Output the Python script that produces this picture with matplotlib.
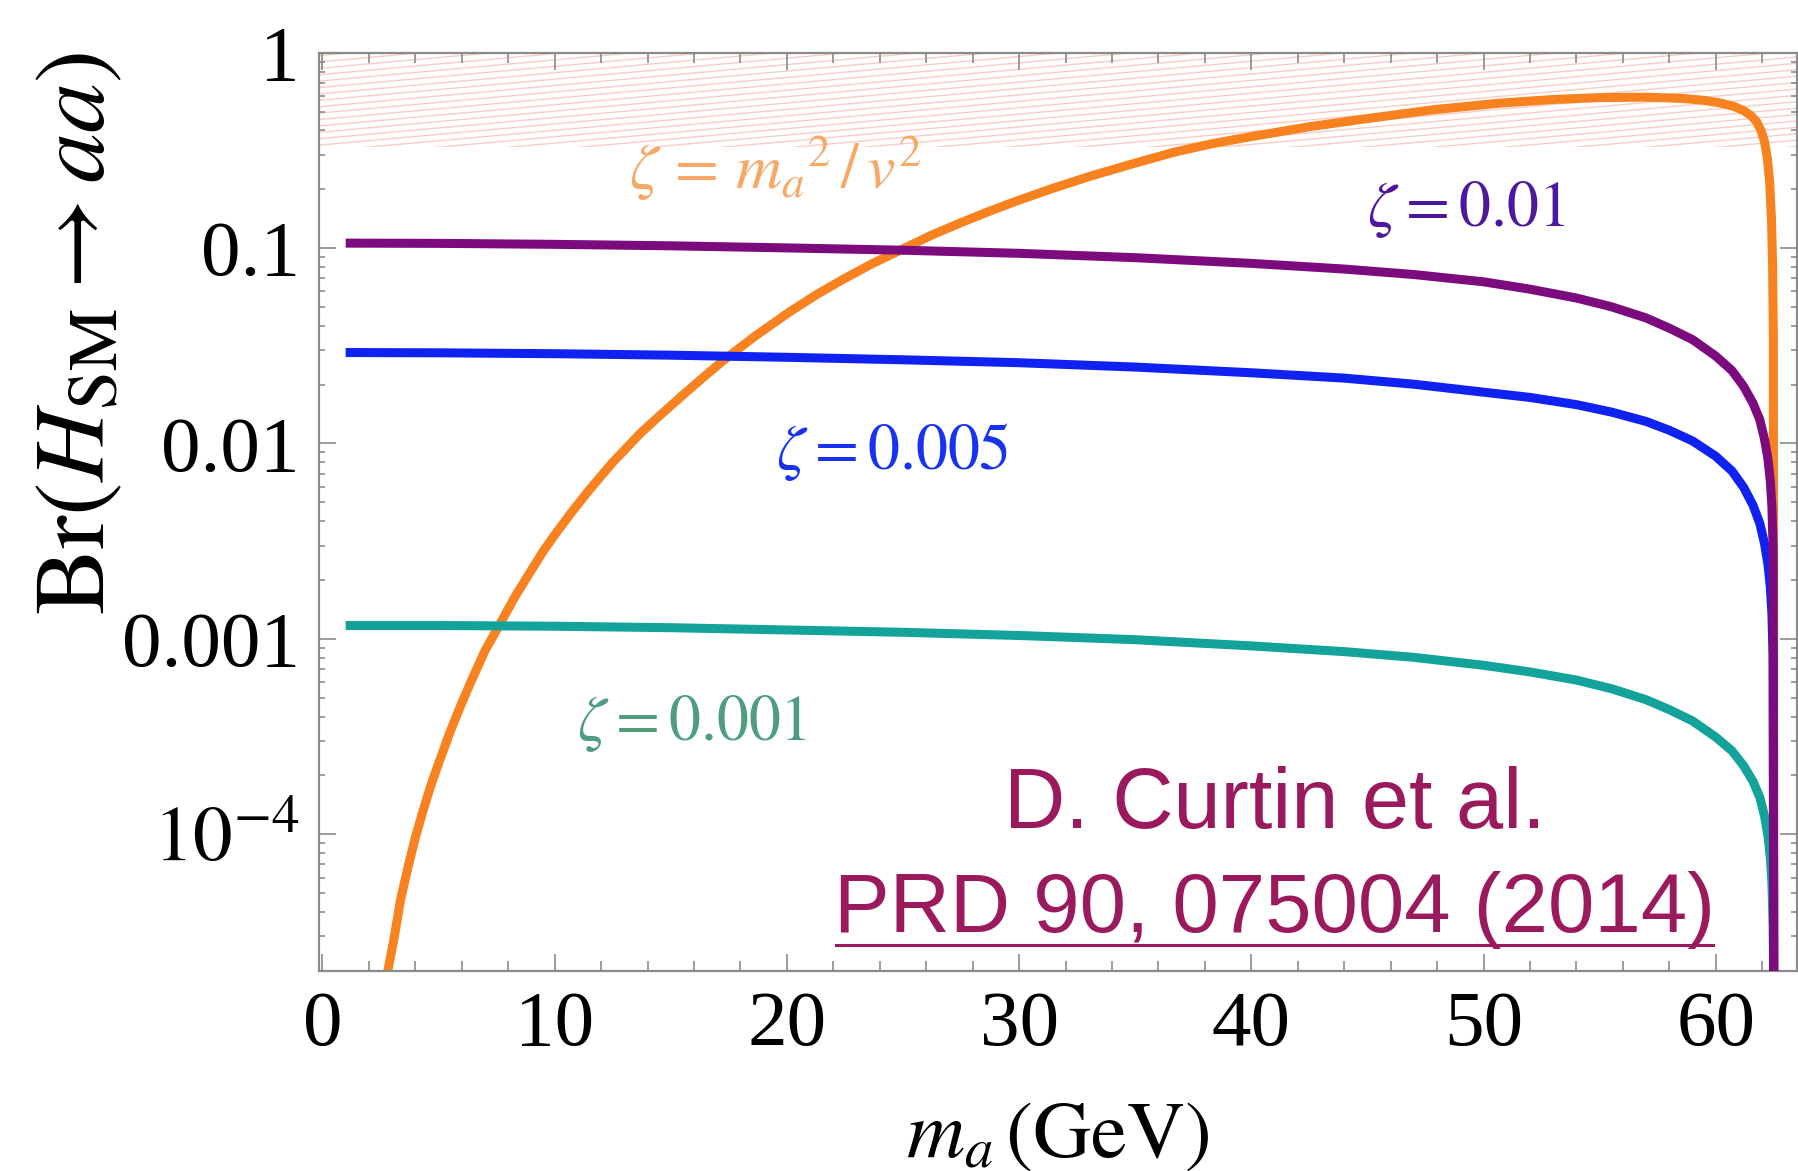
import numpy as np
import matplotlib
matplotlib.use("Agg")
import matplotlib.pyplot as plt
import matplotlib.patches as mpatches
from matplotlib.lines import Line2D
from matplotlib.ticker import FixedLocator, FixedFormatter

plt.rcParams['font.family'] = 'serif'
plt.rcParams['font.serif'] = ['Liberation Serif', 'DejaVu Serif']
plt.rcParams['mathtext.fontset'] = 'stix'

# m_a (GeV) and Br(H_SM -> aa)
m_flat = [1, 5, 10, 15, 20, 25, 30, 35, 40, 44, 47, 50, 52, 54, 55.5, 57,
          58, 59, 60, 60.7, 61.2, 61.6, 61.9, 62.1, 62.25, 62.35, 62.42,
          62.47, 62.5]
br_z001 = [0.106, 0.1057, 0.1045, 0.1027, 0.1002, 0.0975, 0.094, 0.0893,
           0.0835, 0.0781, 0.0732, 0.0672, 0.0616, 0.0555, 0.0501, 0.0439,
           0.0389, 0.0340, 0.0280, 0.0236, 0.0196, 0.0161, 0.0132, 0.0105,
           0.0083, 0.0064, 0.0047, 0.0029, 1.5e-5]
br_z0005 = [0.0292, 0.0291, 0.0288, 0.0283, 0.0276, 0.0268, 0.0259, 0.0246,
            0.0230, 0.0216, 0.0201, 0.0183, 0.0172, 0.0158, 0.01448, 0.01296,
            0.01168, 0.0103, 0.0086, 0.00722, 0.00596, 0.00484, 0.00389,
            0.00307, 0.0024, 0.00184, 0.00133, 0.00081, 1.5e-5]
br_z0001 = [0.00117, 0.00117, 0.00116, 0.00114, 0.00111, 0.00108, 0.00104,
            0.00099, 0.00092, 0.00086, 0.000804, 0.000732, 0.000677,
            0.000615, 0.000556, 0.000488, 0.000434, 0.00038, 0.000314,
            0.000267, 0.000224, 0.000187, 0.000154, 0.000124, 9.8e-5,
            7.6e-5, 5.6e-5, 3.4e-5, 1.5e-5]

m_run = [2.6, 2.85, 3.1, 3.36, 3.7, 4.0, 4.3, 4.65, 5.0, 5.5, 6.0, 6.44, 7.0,
         7.66, 8.3, 8.95, 9.5, 10, 10.7, 11.5, 12.5, 13.7, 14.5, 15.5, 16.4,
         17.3, 18.6, 20.1, 21.3, 22.5, 23.7, 25, 26.2, 27.5, 28.7, 30, 31.5,
         33, 34.8, 36.7, 38.3, 40, 42.5, 45, 47.8, 50.7, 53, 55, 57, 58.6,
         59.5, 60.2, 60.8, 61.2, 61.5, 61.75, 61.95, 62.1, 62.22, 62.32,
         62.4, 62.45, 62.48, 62.5]
br_run = [1.45e-5, 2.1e-5, 3.0e-5, 4.6e-5, 6.9e-5, 9.6e-5, 1.28e-4, 1.75e-4,
          2.3e-4, 3.35e-4, 4.7e-4, 6.2e-4, 8.7e-4, 1.2e-3, 1.65e-3, 2.2e-3,
          2.8e-3, 3.4e-3, 4.4e-3, 5.8e-3, 8.0e-3, 0.0113, 0.0138, 0.0176,
          0.0218, 0.0268, 0.0352, 0.0470, 0.0580, 0.0700, 0.0835, 0.0990,
          0.116, 0.135, 0.154, 0.176, 0.203, 0.232, 0.268, 0.310, 0.342,
          0.372, 0.418, 0.460, 0.510, 0.552, 0.576, 0.589, 0.592, 0.583,
          0.570, 0.553, 0.530, 0.505, 0.478, 0.445, 0.400, 0.350, 0.290,
          0.220, 0.140, 0.080, 0.035, 1.5e-5]

excluded_br = 0.331

y_ticks = [1e-4, 1e-3, 1e-2, 1e-1, 1]
y_labels = [r'$10^{-4}$', '0.001', '0.01', '0.1', '1']
x_ticks = [0, 10, 20, 30, 40, 50, 60]

fig = plt.figure(figsize=(17.99, 11.71), dpi=100)
ax = fig.add_axes([0.1773, 0.171, 0.8216, 0.784])
ymin, ymax = 2.0e-5, 1.0
ax.set_yscale('log')
ax.set_xlim(-0.15, 63.5)
ax.set_ylim(ymin, ymax)

lw = 6.5
ax.plot(m_run, br_run, color='#f7821f', lw=lw, solid_capstyle='butt', zorder=2)
ax.plot(m_flat, br_z0001, color='#13a39b', lw=lw, solid_capstyle='butt', zorder=3)
ax.plot(m_flat, br_z0005, color='#0f22f2', lw=lw, solid_capstyle='butt', zorder=4)
ax.plot(m_flat, br_z001, color='#7c0c7e', lw=lw, solid_capstyle='butt', zorder=5)

# hatched excluded band
y_lo = (np.log10(excluded_br) - np.log10(ymin)) / (np.log10(ymax) - np.log10(ymin))
clip = mpatches.Rectangle((0, y_lo), 1, 1 - y_lo, transform=ax.transAxes,
                          facecolor='none', edgecolor='none')
ax.add_patch(clip)
W = 0.8216 * 1799
H = 0.784 * 1171
k = 0.09 * W / H
step = 6.4 / H
for c in np.arange(y_lo - k, 1 + step, step):
    ln, = ax.plot([0, 1], [c, c + k], transform=ax.transAxes,
                  color='#f9cdc5', lw=1.0, zorder=0.5)
    ln.set_clip_path(clip)

# curve labels
lab_fs = 46
ax.text(19.5, 0.20, r'$\zeta\, =\, m_a{}^2\,/\,v^2$', color='#f7a865',
        fontsize=lab_fs, ha='center', va='baseline')
ax.text(49.25, 0.130, r'$\zeta = 0.01$', color='#4e17a0',
        fontsize=lab_fs, ha='center', va='baseline')
ax.text(24.56, 7.36e-3, r'$\zeta = 0.005$', color='#1733ee',
        fontsize=lab_fs, ha='center', va='baseline')
ax.text(15.92, 3.05e-4, r'$\zeta = 0.001$', color='#4f9d7c',
        fontsize=lab_fs, ha='center', va='baseline')

cite_col = '#9b1a5e'
ax.text(0.6465, 0.1554, 'D. Curtin et al.', transform=ax.transAxes,
        family='Liberation Sans', fontsize=61, color=cite_col,
        ha='center', va='baseline')
ref = ax.text(0.6465, 0.0426, 'PRD 90, 075004 (2014)', transform=ax.transAxes,
              family='Liberation Sans', fontsize=60, color=cite_col,
              ha='center', va='baseline')

# axes styling
for s in ax.spines.values():
    s.set_color('#8a8a8a')
    s.set_linewidth(1.6)

ax.xaxis.set_major_locator(FixedLocator(x_ticks))
ax.xaxis.set_minor_locator(FixedLocator(np.arange(0, 64, 2)))
ax.yaxis.set_major_locator(FixedLocator(y_ticks))
ax.yaxis.set_major_formatter(FixedFormatter(y_labels))
minors = [d * 10.0 ** e for e in range(-5, 0) for d in range(2, 10)]
ax.yaxis.set_minor_locator(FixedLocator(minors))
ax.yaxis.set_minor_formatter(FixedFormatter([''] * len(minors)))

ax.tick_params(which='both', direction='in', top=True, right=True,
               color='#8a8a8a', width=1.2, labelsize=57)
ax.tick_params(axis='x', which='major', length=12, pad=14)
ax.tick_params(axis='x', which='minor', length=7)
ax.tick_params(axis='y', which='major', length=12, pad=14)
ax.tick_params(axis='y', which='minor', length=4)

fig.text(0.0445, 0.7156, r'$\mathrm{Br}(H_{\mathrm{SM}} \rightarrow aa)$',
         rotation=90, fontsize=72, ha='center', va='center')
fig.text(0.588, 0.0124, r'$m_a\,(\mathrm{GeV})$', fontsize=58,
         ha='center', va='baseline')

# underline the reference
fig.canvas.draw()
bb = ref.get_window_extent()
fig.add_artist(Line2D([bb.x0 + 2, bb.x1 - 2], [bb.y0 + 4, bb.y0 + 4],
                      transform=None, color=cite_col, lw=2.2))

fig.savefig('out.png', dpi=100)
